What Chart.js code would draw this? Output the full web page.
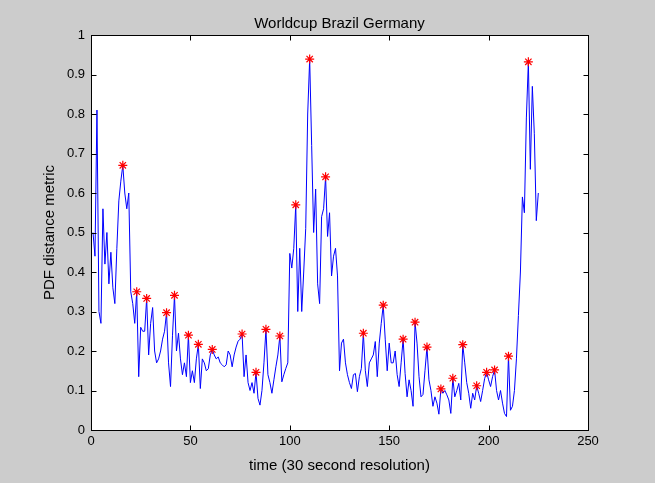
<!DOCTYPE html>
<html>
<head>
<meta charset="utf-8">
<title>Worldcup Brazil Germany</title>
<script src="https://cdn.jsdelivr.net/npm/chart.js@4.4.1/dist/chart.umd.min.js"></script>
<style>
  html, body { margin: 0; padding: 0; background: #cccccc; }
  canvas { display: block; }
</style>
</head>
<body>
<canvas id="chart" width="655" height="483"></canvas>
<script>
// PDF distance metric per 30 s window (index 1..225)
const distance = [
  0.50, 0.44, 0.81, 0.30, 0.27, 0.56, 0.42, 0.50, 0.37, 0.45,
  0.36, 0.32, 0.46, 0.58, 0.63, 0.67, 0.60, 0.56, 0.60, 0.35,
  0.32, 0.27, 0.35, 0.135, 0.26, 0.25, 0.25, 0.333, 0.19, 0.27,
  0.31, 0.20, 0.17, 0.18, 0.20, 0.23, 0.25, 0.297, 0.17, 0.11,
  0.24, 0.341, 0.20, 0.245, 0.18, 0.14, 0.17, 0.135, 0.24, 0.12,
  0.15, 0.12, 0.18, 0.217, 0.105, 0.18, 0.17, 0.15, 0.155, 0.19,
  0.204, 0.19, 0.18, 0.185, 0.17, 0.165, 0.16, 0.165, 0.20, 0.19,
  0.16, 0.19, 0.21, 0.225, 0.23, 0.243, 0.135, 0.19, 0.12, 0.10,
  0.12, 0.093, 0.146, 0.08, 0.063, 0.10, 0.17, 0.255, 0.14, 0.12,
  0.093, 0.127, 0.16, 0.19, 0.238, 0.122, 0.14, 0.156, 0.17, 0.447,
  0.41, 0.46, 0.57, 0.30, 0.46, 0.30, 0.40, 0.51, 0.80, 0.939,
  0.72, 0.50, 0.61, 0.37, 0.32, 0.54, 0.56, 0.641, 0.49, 0.55,
  0.39, 0.44, 0.46, 0.39, 0.15, 0.22, 0.23, 0.17, 0.14, 0.12,
  0.105, 0.14, 0.143, 0.097, 0.135, 0.156, 0.245, 0.15, 0.11, 0.17,
  0.18, 0.19, 0.224, 0.135, 0.22, 0.27, 0.316, 0.23, 0.15, 0.22,
  0.17, 0.17, 0.20, 0.14, 0.11, 0.17, 0.23, 0.143, 0.084, 0.127,
  0.10, 0.06, 0.273, 0.22, 0.135, 0.084, 0.09, 0.15, 0.21, 0.127,
  0.10, 0.06, 0.084, 0.068, 0.04, 0.104, 0.093, 0.10, 0.089, 0.076,
  0.042, 0.131, 0.084, 0.10, 0.118, 0.076, 0.216, 0.17, 0.12, 0.093,
  0.055, 0.093, 0.076, 0.112, 0.093, 0.072, 0.10, 0.13, 0.146, 0.127,
  0.11, 0.135, 0.152, 0.10, 0.076, 0.10, 0.068, 0.042, 0.034, 0.187,
  0.05, 0.06, 0.10, 0.18, 0.29, 0.40, 0.59, 0.55, 0.79, 0.932,
  0.66, 0.87, 0.75, 0.53, 0.60
];

// windows marked with a red star
const peakIndex = [16, 23, 28, 38, 42, 49, 54, 61, 76, 83, 88, 95, 103, 110, 118,
  137, 147, 157, 163, 169, 176, 182, 187, 194, 199, 203, 210, 220];

const xTicks = [0, 50, 100, 150, 200, 250];
const yTicks = [0, 0.1, 0.2, 0.3, 0.4, 0.5, 0.6, 0.7, 0.8, 0.9, 1];

const linePoints = distance.map((v, i) => ({ x: i + 1, y: v }));
const peakPoints = peakIndex.map(i => ({ x: i, y: distance[i - 1] }));

const font = "'Liberation Sans', Arial, sans-serif";
const TICK = 5;

// white axes background, black box and inward ticks on all four sides
const matlabAxes = {
  id: "matlabAxes",
  beforeDraw(chart) {
    const { ctx, chartArea: a } = chart;
    ctx.save();
    ctx.fillStyle = "#ffffff";
    ctx.fillRect(a.left, a.top, a.right - a.left, a.bottom - a.top);
    ctx.restore();
  },
  afterDraw(chart) {
    const { ctx, chartArea: a, scales } = chart;
    const L = Math.round(a.left) + 0.5, R = Math.round(a.right) + 0.5;
    const T = Math.round(a.top) + 0.5, B = Math.round(a.bottom) + 0.5;
    ctx.save();
    ctx.strokeStyle = "#000000";
    ctx.lineWidth = 1;
    ctx.beginPath();
    scales.x.ticks.forEach(t => {
      const px = Math.round(scales.x.getPixelForValue(t.value)) + 0.5;
      ctx.moveTo(px, B); ctx.lineTo(px, B - TICK);
      ctx.moveTo(px, T); ctx.lineTo(px, T + TICK);
    });
    scales.y.ticks.forEach(t => {
      const py = Math.round(scales.y.getPixelForValue(t.value)) + 0.5;
      ctx.moveTo(L, py); ctx.lineTo(L + TICK, py);
      ctx.moveTo(R, py); ctx.lineTo(R - TICK, py);
    });
    ctx.stroke();
    ctx.strokeRect(L, T, R - L, B - T);
    ctx.restore();
  }
};

new Chart(document.getElementById("chart"), {
  type: "line",
  data: {
    datasets: [
      {
        data: peakPoints,
        showLine: false,
        pointStyle: "star",
        pointRadius: 4.5,
        pointBorderWidth: 1.2,
        pointBorderColor: "#ff0000",
        pointBackgroundColor: "#ff0000"
      },
      {
        data: linePoints,
        borderColor: "#0000ff",
        borderWidth: 1,
        pointRadius: 0,
        tension: 0
      }
    ]
  },
  options: {
    responsive: false,
    animation: false,
    devicePixelRatio: 1,
    layout: { padding: { top: 0, right: 67, bottom: 0, left: 0 } },
    plugins: {
      legend: { display: false },
      tooltip: { enabled: false },
      title: {
        display: true,
        fullSize: false,
        text: "Worldcup Brazil Germany",
        color: "#000000",
        font: { family: font, size: 15, weight: "normal", lineHeight: 1.2 },
        padding: { top: 15, bottom: 2 }
      }
    },
    scales: {
      x: {
        type: "linear",
        min: 0,
        max: 250,
        afterBuildTicks: s => { s.ticks = xTicks.map(v => ({ value: v })); },
        afterFit: s => { s.height = 53; },
        grid: { display: false, drawTicks: false },
        border: { display: false },
        ticks: {
          color: "#000000",
          padding: 4,
          maxRotation: 0,
          font: { family: font, size: 13 },
          callback: v => String(v)
        },
        title: {
          display: true,
          text: "time (30 second resolution)",
          color: "#000000",
          font: { family: font, size: 15, lineHeight: 1.2 },
          padding: { top: 0, bottom: 8 }
        }
      },
      y: {
        min: 0,
        max: 1,
        afterBuildTicks: s => { s.ticks = yTicks.map(v => ({ value: v })); },
        afterFit: s => { s.width = 91; },
        grid: { display: false, drawTicks: false },
        border: { display: false },
        ticks: {
          color: "#000000",
          padding: 6,
          font: { family: font, size: 13 },
          callback: v => String(v)
        },
        title: {
          display: true,
          text: "PDF distance metric",
          color: "#000000",
          font: { family: font, size: 15, lineHeight: 1.2 },
          padding: { top: 41, bottom: 0 }
        }
      }
    }
  },
  plugins: [matlabAxes]
});
</script>
</body>
</html>
